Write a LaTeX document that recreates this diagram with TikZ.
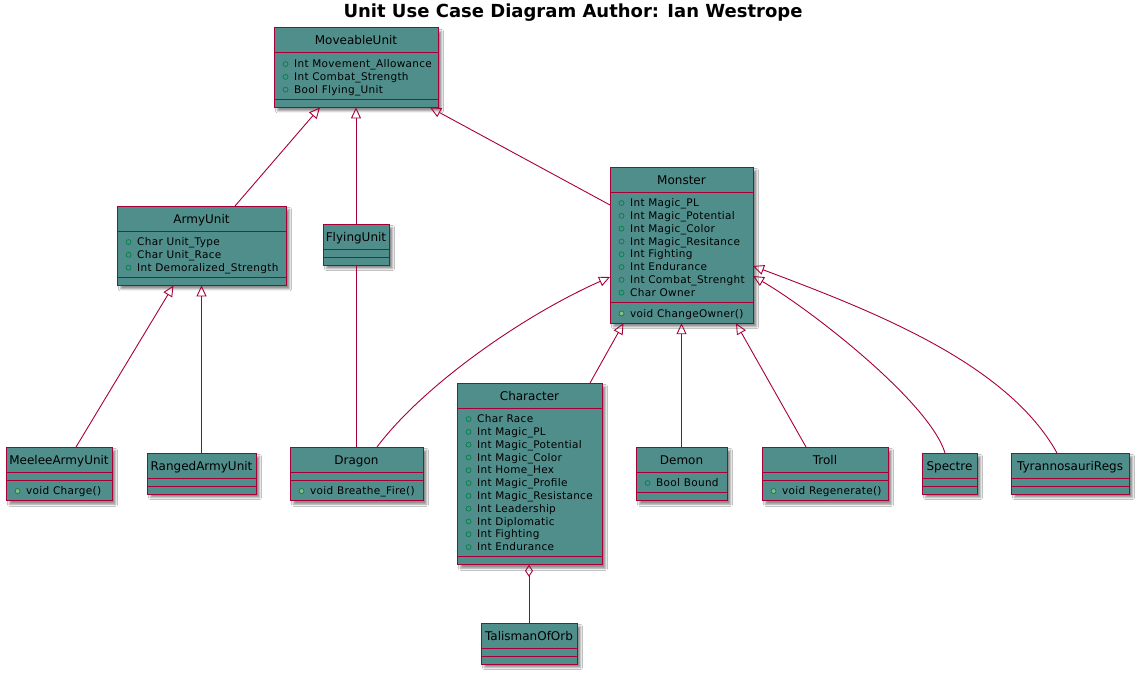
\documentclass[tikz,border=0pt]{standalone}
\usepackage{fontspec}
\setmainfont{DejaVu Sans}
\newfontfamily\attrfam{DejaVu Sans}[LetterSpace=3]
\usepackage{tikz}
\usetikzlibrary{arrows.meta,calc,shadows.blur}

\definecolor{umlred}{HTML}{A80036}
\definecolor{umlteal}{RGB}{80,142,140}
\definecolor{pubgreen}{HTML}{038048}
\definecolor{pubfill}{HTML}{84BE84}

\tikzset{
	umlbox/.style={draw=umlred,line width=1pt,fill=umlteal,outer sep=0pt,inner sep=0pt,
		blur shadow={shadow xshift=3.5pt,shadow yshift=-3.5pt,shadow blur radius=2pt,shadow opacity=45}},
	umlline/.style={draw=umlred,line width=1pt},
	umlname/.style={anchor=base,inner sep=0pt,font=\fontsize{12}{14}\selectfont},
	umlattr/.style={anchor=north west,inner sep=0pt,align=left,font=\attrfam\fontsize{10.5}{12.8}\selectfont},
	extends/.style={draw=umlred,line width=0.9pt,-{Triangle[open,length=11pt,width=10pt]}},
	assoc/.style={draw=umlred,line width=0.9pt},
	aggr/.style={draw=umlred,line width=0.9pt,-{Diamond[open,length=12pt,width=8pt]}}
}

\newcommand{\pub}{\strut\makebox[11.5pt][l]{\tikz[baseline=-3.6pt]\draw[pubgreen,line width=0.7pt] (0,0) circle (2.5pt);}}
\newcommand{\pubm}{\strut\makebox[11.5pt][l]{\tikz[baseline=-3.6pt]\draw[pubgreen,fill=pubfill,line width=0.7pt] (0,0) circle (2.5pt);}}

% name, x, y, width, title, attr lines, attrs, method lines, methods
\newcommand{\umlclass}[9]{%
	\pgfmathsetmacro{\clsha}{8+12.8*#6}%
	\pgfmathsetmacro{\clshm}{8+12.8*#8}%
	\node[umlbox,anchor=north west,minimum width=#4,minimum height=25+\clsha+\clshm] (#1) at (#2,#3) {};
	\draw[umlline] (#2,#3+25) -- ++(#4,0);
	\draw[umlline] (#2,#3+25+\clsha) -- ++(#4,0);
	\node[umlname] at (#2+#4/2,#3+17) {#5};
	\node[umlattr] at (#2+8.5,#3+25+5.5) {#7};
	\node[umlattr] at (#2+8.5,#3+25+\clsha+5.5) {#9};
}

\begin{document}
\begin{tikzpicture}[x=1pt,y=-1pt]
	\fill[white] (0,0) rectangle (1147,674);
	\useasboundingbox (0,0) rectangle (1147,674);
	\node[anchor=base,inner sep=0pt,font=\bfseries\fontsize{18}{20}\selectfont] (title) at (573,17.5) {Unit Use Case Diagram Author: Ian Westrope};

	\umlclass{moveableunit}{274}{28}{164}{MoveableUnit}{3}{\pub Int Movement\_Allowance\\\pub Int Combat\_Strength\\\pub Bool Flying\_Unit}{0}{}
	\umlclass{armyunit}{117}{206}{169}{ArmyUnit}{3}{\pub Char Unit\_Type\\\pub Char Unit\_Race\\\pub Int Demoralized\_Strength}{0}{}
	\umlclass{flyingunit}{323}{224}{66}{FlyingUnit}{0}{}{0}{}
	\umlclass{monster}{610}{167}{143}{Monster}{8}{\pub Int Magic\_PL\\\pub Int Magic\_Potential\\\pub Int Magic\_Color\\\pub Int Magic\_Resitance\\\pub Int Fighting\\\pub Int Endurance\\\pub Int Combat\_Strenght\\\pub Char Owner}{1}{\pubm void ChangeOwner()}
	\umlclass{character}{457}{383}{145}{Character}{11}{\pub Char Race\\\pub Int Magic\_PL\\\pub Int Magic\_Potential\\\pub Int Magic\_Color\\\pub Int Home\_Hex\\\pub Int Magic\_Profile\\\pub Int Magic\_Resistance\\\pub Int Leadership\\\pub Int Diplomatic\\\pub Int Fighting\\\pub Int Endurance}{0}{}
	\umlclass{talisman}{481}{623}{96}{TalismanOfOrb}{0}{}{0}{}
	\umlclass{meelee}{6}{447}{106}{MeeleeArmyUnit}{0}{}{1}{\pubm void Charge()}
	\umlclass{ranged}{147}{453}{109}{RangedArmyUnit}{0}{}{0}{}
	\umlclass{dragon}{290}{447}{133}{Dragon}{0}{}{1}{\pubm void Breathe\_Fire()}
	\umlclass{demon}{636}{447}{91}{Demon}{1}{\pub Bool Bound}{0}{}
	\umlclass{troll}{762}{447}{126}{Troll}{0}{}{1}{\pubm void Regenerate()}
	\umlclass{spectre}{922}{453}{55}{Spectre}{0}{}{0}{}
	\umlclass{tyranno}{1011}{453}{118}{TyrannosauriRegs}{0}{}{0}{}

	\draw[extends] ($(armyunit.north)+(33.5,0)$) -- ($(moveableunit.south)+(-36,0)$);
	\draw[extends] (flyingunit.north) -- (moveableunit.south);
	\draw[extends] ($(monster.north west)+(0,38)$) -- ($(moveableunit.south)+(74,0)$);
	\draw[extends] ($(meelee.north)+(17,0)$) -- ($(armyunit.south)+(-28,0)$);
	\draw[extends] (ranged.north) -- (armyunit.south);
	\draw[assoc] (flyingunit.south) -- (flyingunit.south |- dragon.north);
	\draw[extends] ($(dragon.north)+(20.5,0)$) .. controls +(45,-60) and +(-90,40) .. ($(monster.north west)+(0,110)$);
	\draw[extends] ($(character.north)+(60.5,0)$) -- ($(monster.south)+(-58,0)$);
	\draw[extends] (demon.north) -- (monster.south);
	\draw[extends] ($(troll.north)+(-19,0)$) -- ($(monster.south)+(54.5,0)$);
	\draw[extends] ($(spectre.north)+(-4.5,0)$) .. controls +(-15,-50) and +(60,35) .. ($(monster.north east)+(0,109)$);
	\draw[extends] ($(tyranno.north)+(-13,0)$) .. controls +(-50,-90) and +(120,45) .. ($(monster.north east)+(0,99)$);
	\draw[aggr] (talisman.north) -- (talisman.north |- character.south);
\end{tikzpicture}
\end{document}
